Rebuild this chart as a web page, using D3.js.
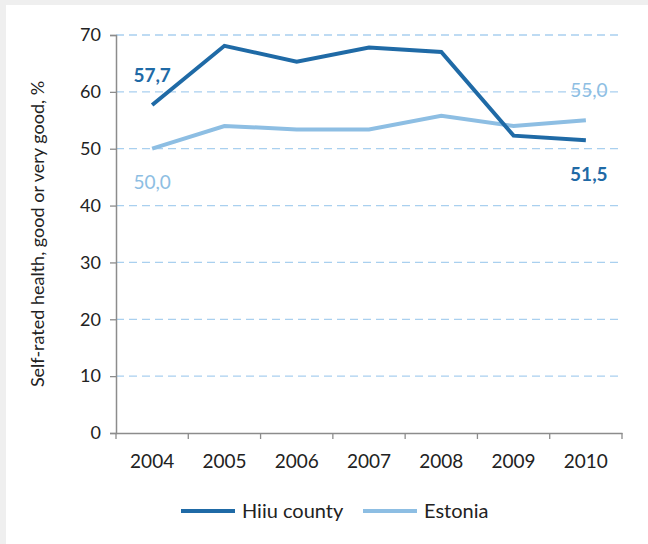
<!DOCTYPE html>
<html>
<head>
<meta charset="utf-8">
<script src="https://cdn.jsdelivr.net/npm/d3@7"></script>
<style>
  body { margin: 0; background: #efefef; }
  svg { display: block; }
</style>
</head>
<body>
<svg id="chart" width="648" height="544"></svg>
<script>
const years = ["2004", "2005", "2006", "2007", "2008", "2009", "2010"];
const hiiu = [57.7, 68.1, 65.3, 67.8, 67.0, 52.3, 51.5];
const estonia = [50.0, 54.0, 53.4, 53.4, 55.8, 54.0, 55.0];
const yTicks = [0, 10, 20, 30, 40, 50, 60, 70];
const seriesNames = ["Hiiu county", "Estonia"];

const dark = "#1f6aa6";
const light = "#8dbee3";
const font = "Lato, 'Open Sans', sans-serif";

const svg = d3.select("#chart");
svg.append("rect").attr("x", 6).attr("y", 5).attr("width", 642).attr("height", 539).attr("fill", "#fff");

const margin = { top: 35, left: 116, right: 26, bottom: 111 };
const width = 648 - margin.left - margin.right;
const height = 544 - margin.top - margin.bottom;

const g = svg.append("g").attr("transform", `translate(${margin.left},${margin.top})`);

const x = d3.scaleBand().domain(years).range([0, width]);
const y = d3.scaleLinear().domain([0, 70]).range([height, 0]);

// gridlines
g.selectAll(".grid")
  .data(yTicks.filter(d => d > 0))
  .enter()
  .append("line")
  .attr("x1", 0)
  .attr("x2", width)
  .attr("y1", d => y(d))
  .attr("y2", d => y(d))
  .attr("stroke", "#a9d0ef")
  .attr("stroke-width", 1.3)
  .attr("stroke-dasharray", "8,5");

// y axis
const yAxisG = g.append("g").call(d3.axisLeft(y).tickValues(yTicks).tickSize(6).tickPadding(9));
yAxisG.select(".domain").attr("stroke", "#8c8c8c").attr("stroke-width", 1.5);
yAxisG.selectAll(".tick line").attr("stroke", "#8c8c8c").attr("stroke-width", 1.3);
yAxisG.selectAll(".tick text").attr("font-family", font).attr("font-size", 18).attr("fill", "#222");

// x axis, ticks on band boundaries
const xAxisG = g.append("g").attr("transform", `translate(0,${height})`)
  .call(d3.axisBottom(x).tickSize(0).tickPadding(22));
xAxisG.select(".domain").attr("stroke", "#8c8c8c").attr("stroke-width", 1.5);
xAxisG.selectAll(".tick text").attr("font-family", font).attr("font-size", 19).attr("fill", "#222");
const bounds = years.map(d => x(d)).concat([width]);
xAxisG.selectAll(".bound")
  .data(bounds)
  .enter()
  .append("line")
  .attr("x1", d => d)
  .attr("x2", d => d)
  .attr("y1", 0)
  .attr("y2", 6)
  .attr("stroke", "#8c8c8c")
  .attr("stroke-width", 1.3);

// y title
g.append("text")
  .attr("transform", `translate(${44 - margin.left},${y(35)}) rotate(-90)`)
  .attr("text-anchor", "middle")
  .attr("font-family", font)
  .attr("font-size", 18)
  .attr("fill", "#222")
  .text("Self-rated health, good or very good, %");

const line = d3.line()
  .x((d, i) => x(years[i]) + x.bandwidth() / 2)
  .y(d => y(d));

g.append("path").datum(estonia).attr("d", line).attr("fill", "none")
  .attr("stroke", light).attr("stroke-width", 4);
g.append("path").datum(hiiu).attr("d", line).attr("fill", "none")
  .attr("stroke", dark).attr("stroke-width", 4);

// data labels
const cx = i => x(years[i]) + x.bandwidth() / 2;
const last = years.length - 1;
const labels = [
  { v: hiiu[0], i: 0, dx: 0, dy: -23, color: dark, weight: "bold" },
  { v: estonia[0], i: 0, dx: 0, dy: 40, color: light, weight: "normal" },
  { v: estonia[last], i: last, dx: 3, dy: -23, color: light, weight: "normal" },
  { v: hiiu[last], i: last, dx: 3, dy: 41, color: dark, weight: "bold" }
];
g.selectAll(".lbl")
  .data(labels)
  .enter()
  .append("text")
  .attr("x", d => cx(d.i) + d.dx)
  .attr("y", d => y(d.v) + d.dy)
  .attr("text-anchor", "middle")
  .attr("font-family", font)
  .attr("font-size", 19)
  .attr("font-weight", d => d.weight)
  .attr("fill", d => d.color)
  .text(d => d3.format(".1f")(d.v).replace(".", ","));

// legend
const legend = svg.append("g").attr("transform", "translate(0,511)");
const legX = [181, 363];
seriesNames.forEach((name, i) => {
  legend.append("line")
    .attr("x1", legX[i]).attr("x2", legX[i] + 54)
    .attr("y1", 0).attr("y2", 0)
    .attr("stroke", i === 0 ? dark : light)
    .attr("stroke-width", 4);
  legend.append("text")
    .attr("x", legX[i] + 61)
    .attr("y", 7)
    .attr("font-family", font)
    .attr("font-size", 20)
    .attr("fill", "#222")
    .text(name);
});
</script>
</body>
</html>
